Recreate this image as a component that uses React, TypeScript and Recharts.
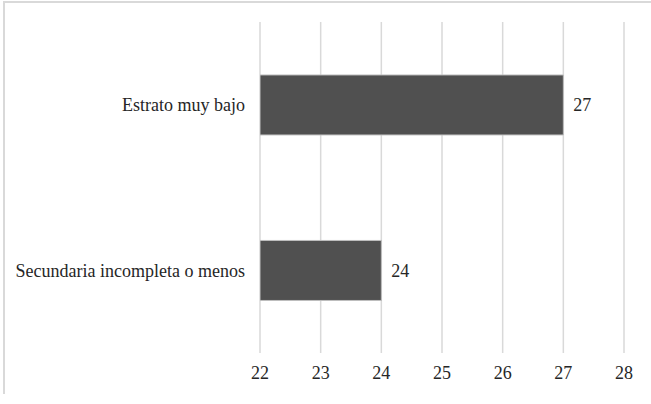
import { BarChart, Bar, XAxis, YAxis, CartesianGrid, LabelList } from "recharts";

const categories = ["Estrato muy bajo", "Secundaria incompleta o menos"];
const values = [27, 24];
const xTicks = [22, 23, 24, 25, 26, 27, 28];

const data = categories.map((name, i) => ({ name, value: values[i] }));

const font = "Liberation Serif";
const textColor = "#262626";
const fontSize = 18;

function XTick(props: any) {
  const { x, y, payload } = props;
  return (
    <text x={x} y={y} dy="0.71em" textAnchor="middle" fill={textColor} fontSize={fontSize} fontFamily={font}>
      {payload.value}
    </text>
  );
}

function YTick(props: any) {
  const { x, y, payload } = props;
  return (
    <text x={x} y={y} dy="0.355em" textAnchor="end" fill={textColor} fontSize={fontSize} fontFamily={font}>
      {payload.value}
    </text>
  );
}

function ValueLabel(props: any) {
  const { x, y, width, height, value } = props;
  return (
    <text
      x={x + width + 10}
      y={y + height / 2}
      dy="0.355em"
      textAnchor="start"
      fill={textColor}
      fontSize={fontSize}
      fontFamily={font}
    >
      {value}
    </text>
  );
}

export default function App() {
  return (
    <div style={{ position: "absolute", left: 0, top: 0, width: 651, height: 404, background: "#fff" }}>
      <div
        style={{
          position: "absolute",
          left: 3,
          top: 1,
          width: 648,
          height: 393,
          borderTop: "2px solid #d9d9d9",
          borderLeft: "2px solid #d9d9d9",
          boxSizing: "border-box",
        }}
      />
      <BarChart
        width={651}
        height={404}
        data={data}
        layout="vertical"
        margin={{ top: 22, right: 27, bottom: 11, left: 0 }}
        barCategoryGap="32%"
        style={{ position: "absolute", left: 0, top: 0 }}
      >
        <CartesianGrid horizontal={false} stroke="#d9d9d9" strokeWidth={1.5} />
        <XAxis
          type="number"
          domain={[22, 28]}
          ticks={xTicks}
          allowDataOverflow
          axisLine={false}
          tickLine={false}
          tickSize={0}
          tickMargin={13}
          height={40}
          tick={<XTick />}
        />
        <YAxis
          type="category"
          dataKey="name"
          width={260}
          axisLine={false}
          tickLine={false}
          tickSize={0}
          tickMargin={15}
          tick={<YTick />}
        />
        <Bar dataKey="value" fill="#505050" stroke="#bfbfbf" strokeWidth={1} isAnimationActive={false}>
          <LabelList dataKey="value" content={<ValueLabel />} />
        </Bar>
      </BarChart>
    </div>
  );
}
